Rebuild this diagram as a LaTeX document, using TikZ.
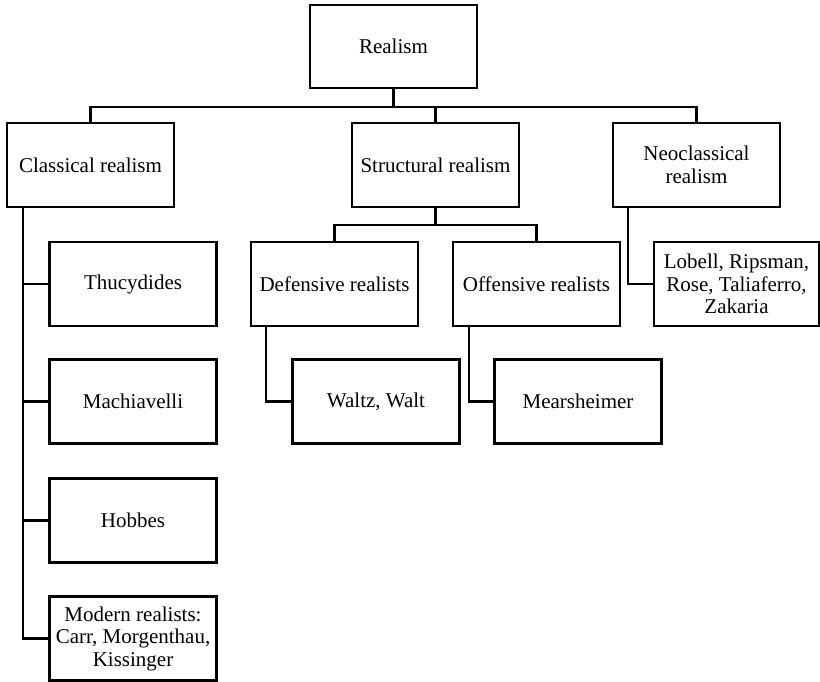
\documentclass[tikz,border=0pt]{standalone}
\usepackage{fontspec}
\setmainfont{Liberation Serif}
\usetikzlibrary{calc}
\begin{document}
\begin{tikzpicture}[x=1pt,y=1pt,
  box/.style={draw, line width=2.2pt, minimum width=167pt, minimum height=84pt,
    inner sep=2pt, align=center, font=\fontsize{21}{22.5}\selectfont},
  conn/.style={line width=2.2pt}]
\useasboundingbox (0,0) rectangle (820,-682);
\node[box, minimum height=83pt] (realism) at (393.5,-46.5) {Realism};
\node[box] (classical) at (90.5,-165) {Classical realism};
\node[box] (structural) at (435.5,-165) {Structural realism};
\node[box] (neo) at (696.5,-165) {Neoclassical\\realism};
\node[box] (thuc) at (133,-284) {Thucydides};
\node[box] (mach) at (133,-401.5) {Machiavelli};
\node[box] (hobbes) at (133,-520.5) {Hobbes};
\node[box] (modern) at (133,-638.5) {Modern realists:\\Carr, Morgenthau,\\Kissinger};
\node[box] (defensive) at (334.5,-284) {Defensive realists};
\node[box] (offensive) at (536.5,-284) {Offensive realists};
\node[box] (waltz) at (376,-401.5) {Waltz, Walt};
\node[box] (mears) at (578,-401.5) {Mearsheimer};
\node[box, minimum width=165pt] (lobell) at (736.5,-284) {Lobell, Ripsman,\\Rose, Taliaferro,\\Zakaria};
% top level
\coordinate (bus) at ($(realism.south)+(0,-18)$);
\draw[conn, line width=2.8pt] (realism.south) -- (bus);
\draw[conn] (classical.north) |- (bus) -| (neo.north);
\draw[conn] (bus) -| (structural.north);
% classical
\coordinate (cl) at ([xshift=17pt]classical.south west);
\draw[conn] (cl) |- (modern.west);
\draw[conn] (thuc.west) -- (thuc.west -| cl);
\draw[conn] (mach.west) -- (mach.west -| cl);
\draw[conn] (hobbes.west) -- (hobbes.west -| cl);
% structural
\coordinate (sb) at ($(structural.south)+(0,-17)$);
\draw[conn] (structural.south) -- (sb);
\draw[conn] (defensive.north) |- (sb) -| (offensive.north);
\coordinate (dl) at ([xshift=16pt]defensive.south west);
\draw[conn] (dl) |- (waltz.west);
\coordinate (ol) at ([xshift=17pt]offensive.south west);
\draw[conn] (ol) |- (mears.west);
% neoclassical
\coordinate (nl) at ([xshift=16pt]neo.south west);
\draw[conn] (nl) |- (lobell.west);
\end{tikzpicture}
\end{document}
